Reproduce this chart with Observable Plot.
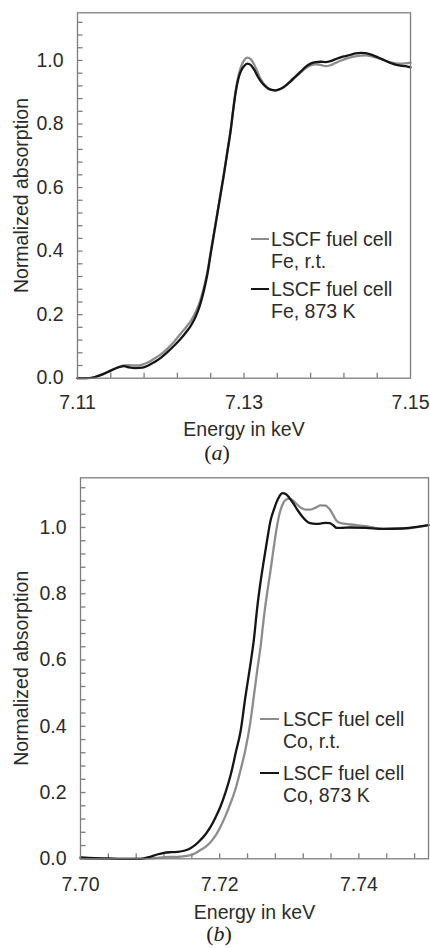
<!DOCTYPE html>
<html><head><meta charset="utf-8">
<script src="https://cdn.jsdelivr.net/npm/d3@7"></script>
<script src="https://cdn.jsdelivr.net/npm/@observablehq/plot@0.6"></script>
<style>
body{margin:0;background:#fff;}
#root{position:relative;width:430px;height:948px;overflow:hidden;font-family:"Liberation Sans",Arial,sans-serif;color:#2b2b2b;background:#fff}
#root svg{position:absolute;left:0}
.leg{position:absolute;font-size:19.5px;line-height:22px;white-space:pre;color:#2b2b2b}
.sw{position:absolute;height:2.4px}
.cap{position:absolute;font-family:"Liberation Serif","Times New Roman",serif;font-size:22px;line-height:16px;width:430px;text-align:center;color:#222}
</style></head><body><div id="root"></div>
<script>
// ---------- data ----------
const yLabels = [0, 0.2, 0.4, 0.6, 0.8, 1.0];
const yMinor = d3.range(0, 29).map(i => +(i * 0.04).toFixed(2)); // 0 .. 1.12
const xTitle = "Energy in keV";
const yTitle = "Normalized absorption";

// Panel (a): Fe K-edge
const feX = [7.11, 7.13, 7.15];
const feMinor = [7.114, 7.118, 7.122, 7.126, 7.130, 7.134, 7.138, 7.142, 7.146];
const feNames = ["LSCF fuel cell\nFe, r.t.", "LSCF fuel cell\nFe, 873 K"];
const feE = [7.1100,7.1110,7.1120,7.1130,7.1140,7.1150,7.1156,7.1162,7.1170,7.1178,7.1185,7.1192,7.1200,7.1208,7.1216,7.1224,7.1232,7.1236,
  7.1240,7.1244,7.1248,7.1252,7.1256,7.1260,7.1264,7.1268,7.1272,7.1276,7.1280,7.1284,7.1287,7.1290,7.1293,7.1296,
  7.1300,7.1304,7.1308,7.1312,7.1316,7.1320,7.1326,7.1332,7.1338,7.1344,7.1350,7.1356,7.1362,7.1368,7.1374,7.1380,7.1386,7.1392,7.1398,7.1404,7.1410,7.1416,7.1422,7.1428,7.1434,7.1440,7.1446,7.1452,7.1458,7.1464,7.1470,7.1476,7.1482,7.1488,7.1494,7.1500];
const feRT = [0.000,0.000,0.003,0.012,0.025,0.036,0.040,0.041,0.040,0.043,0.050,0.061,0.075,0.093,0.115,0.140,0.166,0.180,
  0.198,0.220,0.250,0.288,0.334,0.397,0.458,0.520,0.583,0.646,0.714,0.782,0.846,0.905,0.948,0.977,
  1.000,1.009,1.004,0.988,0.965,0.942,0.920,0.908,0.905,0.910,0.920,0.933,0.948,0.962,0.975,0.984,0.988,0.986,0.982,0.985,0.992,0.999,1.005,1.010,1.013,1.015,1.016,1.014,1.010,1.005,0.999,0.994,0.991,0.990,0.991,0.993];
const fe873 = [0.000,0.000,0.003,0.012,0.024,0.035,0.038,0.034,0.032,0.033,0.040,0.050,0.064,0.082,0.102,0.124,0.150,0.165,
  0.183,0.207,0.238,0.278,0.327,0.392,0.455,0.518,0.581,0.644,0.712,0.780,0.843,0.900,0.940,0.965,
  0.982,0.990,0.986,0.972,0.952,0.935,0.918,0.908,0.906,0.911,0.921,0.935,0.950,0.965,0.980,0.990,0.995,0.996,0.995,0.998,1.004,1.010,1.014,1.018,1.022,1.024,1.023,1.019,1.013,1.006,0.999,0.992,0.987,0.984,0.982,0.978];

// Panel (b): Co K-edge
const coX = [7.70, 7.72, 7.74];
const coMinor = [7.704,7.708,7.712,7.716,7.720,7.724,7.728,7.732,7.736,7.740,7.744,7.748];
const coNames = ["LSCF fuel cell\nCo, r.t.", "LSCF fuel cell\nCo, 873 K"];
const coE = [7.7000,7.7020,7.7040,7.7060,7.7086,7.7100,7.7110,7.7120,7.7130,7.7140,7.7150,7.7158,7.7165,7.7172,7.7180,7.7187,7.7194,7.7201,7.7208,7.7216,7.7223,7.7230,7.7237,7.7244,7.7249,7.7254,7.7259,7.7263,7.7268,7.7273,7.7278,7.7282,7.7286,7.7290,7.7295,7.7300,7.7306,7.7312,7.7318,7.7324,7.7330,7.7338,7.7345,7.7352,7.7358,7.7363,7.7368,7.7374,7.7388,7.7410,7.7435,7.7460,7.7480,7.7500];
const coRT = [0.000,0.000,0.000,0.000,0.000,0.001,0.003,0.005,0.006,0.006,0.008,0.011,0.017,0.026,0.037,0.051,0.070,0.096,0.128,0.170,0.213,0.268,0.330,0.412,0.490,0.570,0.645,0.720,0.800,0.870,0.945,1.000,1.042,1.068,1.084,1.087,1.080,1.068,1.058,1.054,1.054,1.060,1.067,1.066,1.055,1.038,1.020,1.013,1.009,1.004,0.996,0.996,1.000,1.007];
const co873 = [0.004,0.002,0.001,0.000,0.000,0.006,0.013,0.018,0.020,0.021,0.025,0.032,0.042,0.056,0.075,0.097,0.125,0.157,0.198,0.255,0.320,0.385,0.490,0.585,0.660,0.760,0.840,0.895,0.960,1.020,1.055,1.078,1.095,1.104,1.101,1.090,1.072,1.052,1.035,1.021,1.013,1.011,1.012,1.014,1.013,1.007,0.999,0.999,1.000,0.999,0.996,0.997,1.001,1.007];

const colors = ["#8c8c8c", "#151515"];

// ---------- drawing ----------
const FS = 19.5;
const root = document.getElementById("root");

function makePanel(cfg) {
  const series = [cfg.rt, cfg.hot];
  const data = [];
  series.forEach((vals, s) => vals.forEach((v, i) => data.push({E: cfg.E[i], v, name: cfg.names[s]})));
  const plotH = cfg.plotBottom - cfg.marginTop;
  const plotW = 430 - cfg.marginLeft - cfg.marginRight;
  const svg = Plot.plot({
    width: 430, height: cfg.height,
    marginLeft: cfg.marginLeft, marginRight: cfg.marginRight,
    marginTop: cfg.marginTop, marginBottom: cfg.height - cfg.plotBottom,
    x: {domain: cfg.xDomain},
    y: {domain: [0, 1.15]},
    color: {domain: cfg.names, range: colors},
    style: {fontFamily: '"Liberation Sans", Arial, sans-serif', fontSize: FS + "px", color: "#2b2b2b", background: "transparent"},
    marks: [
      Plot.ruleY(yMinor, {y: d => d, insetRight: plotW - 5.5, stroke: "#7d7d7d", strokeWidth: 1.3}),
      Plot.ruleX(cfg.xMinor, {x: d => d, insetTop: plotH - 5, stroke: "#7d7d7d", strokeWidth: 1.3}),
      Plot.line(data, {x: "E", y: "v", z: "name", stroke: "name", strokeWidth: 2.3, curve: "monotone-x"}),
      Plot.frame({stroke: "#7d7d7d", strokeWidth: 1.3}),
      Plot.axisX({ticks: cfg.xLabels, tickSize: 0, tickPadding: cfg.xPad, tickFormat: d3.format(".2f"), label: null, fontSize: FS}),
      Plot.axisY({ticks: yLabels, tickSize: 0, tickPadding: 14, tickFormat: d3.format(".1f"), label: null, fontSize: FS}),
      Plot.text([xTitle], {frameAnchor: "bottom", dy: cfg.titleDy, lineAnchor: "bottom", fontSize: FS, fill: "currentColor"}),
      Plot.text([yTitle], {frameAnchor: "left", rotate: -90, dx: cfg.yTitleDx, lineAnchor: "middle", textAnchor: "middle", fontSize: FS, fill: "currentColor"})
    ]
  });
  svg.style.top = cfg.top + "px";
  root.appendChild(svg);

  // legend
  cfg.names.forEach((n, i) => {
    const sw = document.createElement("div");
    sw.className = "sw";
    sw.style.left = cfg.leg.swLeft + "px";
    sw.style.width = cfg.leg.swW + "px";
    sw.style.top = (cfg.leg.swY[i] - 1.2) + "px";
    sw.style.background = colors[i];
    root.appendChild(sw);
    const t = document.createElement("div");
    t.className = "leg";
    t.style.left = cfg.leg.textLeft + "px";
    t.style.top = (cfg.leg.baseline[i] - 17.75) + "px";
    t.textContent = n;
    root.appendChild(t);
  });

  const cap = document.createElement("div");
  cap.className = "cap";
  cap.style.left = cfg.capShift + "px";
  cap.style.top = (cfg.capBaseline - 15.4) + "px";
  cap.innerHTML = "(<i>" + cfg.capLetter + "</i>)";
  root.appendChild(cap);
}

makePanel({
  E: feE, rt: feRT, hot: fe873, names: feNames,
  xDomain: [7.11, 7.15], xLabels: feX, xMinor: feMinor,
  top: 0, height: 445, marginTop: 12.3, plotBottom: 377.7,
  marginLeft: 77, marginRight: 20,
  xPad: 16.5, titleDy: 57.3, yTitleDx: -56.2,
  leg: {swLeft: 250.7, swW: 18.6, swY: [239, 289], textLeft: 271, baseline: [246, 296]},
  capShift: 2, capBaseline: 460, capLetter: "a"
});

makePanel({
  E: coE, rt: coRT, hot: co873, names: coNames,
  xDomain: [7.70, 7.75], xLabels: coX, xMinor: coMinor,
  top: 465, height: 470, marginTop: 12.3, plotBottom: 393.3,
  marginLeft: 80, marginRight: 2,
  xPad: 17.85, titleDy: 59.7, yTitleDx: -59.2,
  leg: {swLeft: 260, swW: 19.3, swY: [719, 773], textLeft: 283, baseline: [726, 780]},
  capShift: 4, capBaseline: 941, capLetter: "b"
});
</script>
</body></html>
